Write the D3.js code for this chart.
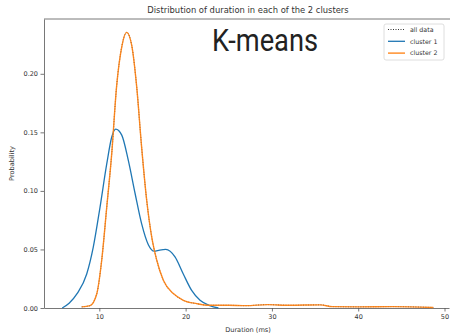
<!DOCTYPE html>
<html>
<head>
<meta charset="utf-8">
<script src="https://cdn.jsdelivr.net/npm/d3@7"></script>
<style>
  html, body { margin: 0; padding: 0; background: #fff; }
  svg { display: block; font-family: "DejaVu Sans", sans-serif; }
</style>
</head>
<body>
<div id="chart"></div>
<script>
// duration (ms) / probability pairs
const cluster1X = [5.7, 6.5, 7.4, 8.54, 9.3, 10.08, 10.86, 11.44, 11.9, 12.6, 13.36, 14.14, 14.9, 15.68, 16.35, 17.0, 17.7, 18.77, 19.73, 20.7, 21.67, 22.8, 23.8];
const cluster1Y = [0.0, 0.004, 0.012, 0.029, 0.052, 0.086, 0.123, 0.146, 0.1527, 0.1476, 0.126, 0.098, 0.072, 0.054, 0.0485, 0.0495, 0.05, 0.0436, 0.029, 0.015, 0.0066, 0.002, 0.0];

const cluster2X = [7.96, 8.92, 9.7, 10.28, 10.86, 11.44, 12.0, 12.6, 13.17, 13.75, 14.33, 14.9, 15.49, 16.07, 16.65, 17.42, 18.58, 19.73, 21.3, 22.8, 25.0, 27.0, 29.5, 32.0, 35.6, 37.0, 40.0, 44.0, 48.7];
const cluster2Y = [0.001, 0.002, 0.012, 0.041, 0.086, 0.132, 0.189, 0.223, 0.2354, 0.2245, 0.189, 0.1376, 0.092, 0.0607, 0.041, 0.0237, 0.0123, 0.0066, 0.0037, 0.0023, 0.0023, 0.002, 0.0029, 0.0023, 0.0027, 0.0012, 0.001, 0.0012, 0.0004];

const allDataX = [7.96, 8.92, 9.7, 10.28, 10.86, 11.44, 12.0, 12.6, 13.17, 13.75, 14.33, 14.9, 15.49, 16.07, 16.65, 17.42, 18.58, 19.73, 21.3, 22.8, 25.0, 27.0, 29.5, 32.0, 35.6, 37.0, 40.0, 44.0, 48.7];
const allDataY = [0.001, 0.002, 0.012, 0.041, 0.086, 0.132, 0.189, 0.223, 0.2354, 0.2245, 0.189, 0.1376, 0.092, 0.0607, 0.041, 0.0237, 0.0123, 0.0066, 0.0037, 0.0023, 0.0023, 0.002, 0.0029, 0.0023, 0.0027, 0.0012, 0.001, 0.0012, 0.0004];

const xTicks = [10, 20, 30, 40, 50];
const yTicks = [0, 0.05, 0.10, 0.15, 0.20];

const seriesNames = ["all data", "cluster 1", "cluster 2"];
const seriesColors = ["#333333", "#1f77b4", "#ff7f0e"];

const width = 450;
const height = 336;
const margin = { top: 19, right: 1, bottom: 28, left: 44 };

const svg = d3.select("#chart")
  .append("svg")
  .attr("width", width)
  .attr("height", height);

const x = d3.scaleLinear()
  .domain([3.59, 50.52])
  .range([margin.left, width - margin.right]);

const y = d3.scaleLinear()
  .domain([0, 0.2468])
  .range([height - margin.bottom, margin.top]);

// top spine (right spine falls outside the crop)
svg.append("line")
  .attr("x1", margin.left).attr("x2", width)
  .attr("y1", margin.top).attr("y2", margin.top)
  .attr("stroke", "#555")
  .attr("stroke-width", 0.8);

const xAxis = svg.append("g")
  .attr("transform", `translate(0,${height - margin.bottom})`)
  .call(d3.axisBottom(x).tickValues(xTicks).tickFormat(d3.format("d")).tickSize(3.5).tickSizeOuter(0).tickPadding(2.5));

const yAxis = svg.append("g")
  .attr("transform", `translate(${margin.left},0)`)
  .call(d3.axisLeft(y).tickValues(yTicks).tickFormat(d3.format(".2f")).tickSize(3.5).tickSizeOuter(0).tickPadding(2.5));

[xAxis, yAxis].forEach((ax) => {
  ax.select(".domain").attr("stroke", "#555").attr("stroke-width", 0.8);
  ax.selectAll(".tick line").attr("stroke", "#555").attr("stroke-width", 0.8);
  ax.selectAll(".tick text")
    .attr("fill", "#333")
    .style("font-size", "6.5px")
    .style("font-family", "DejaVu Sans, sans-serif");
});

const line = d3.line()
  .x((d) => x(d[0]))
  .y((d) => y(d[1]))
  .curve(d3.curveMonotoneX);

const allData = d3.zip(allDataX, allDataY);
const cluster1 = d3.zip(cluster1X, cluster1Y);
const cluster2 = d3.zip(cluster2X, cluster2Y);

svg.append("path")
  .datum(allData)
  .attr("d", line)
  .attr("fill", "none")
  .attr("stroke", seriesColors[0])
  .attr("stroke-width", 1)
  .attr("stroke-dasharray", "1,1.5");

svg.append("path")
  .datum(cluster1)
  .attr("d", line)
  .attr("fill", "none")
  .attr("stroke", seriesColors[1])
  .attr("stroke-width", 1.3);

svg.append("path")
  .datum(cluster2)
  .attr("d", line)
  .attr("fill", "none")
  .attr("stroke", seriesColors[2])
  .attr("stroke-opacity", 0.9)
  .attr("stroke-width", 1.4);

// title and axis labels
svg.append("text")
  .attr("x", 248)
  .attr("y", 13)
  .attr("text-anchor", "middle")
  .attr("fill", "#333")
  .style("font-size", "8.4px")
  .text("Distribution of duration in each of the 2 clusters");

svg.append("text")
  .attr("x", 248)
  .attr("y", 332)
  .attr("text-anchor", "middle")
  .attr("fill", "#333")
  .style("font-size", "6.6px")
  .text("Duration (ms)");

svg.append("text")
  .attr("transform", `translate(14,${(margin.top + height - margin.bottom) / 2}) rotate(-90)`)
  .attr("text-anchor", "middle")
  .attr("fill", "#333")
  .style("font-size", "6.6px")
  .text("Probability");

svg.append("text")
  .attr("x", 212)
  .attr("y", 51)
  .attr("fill", "#222")
  .attr("textLength", 106)
  .attr("lengthAdjust", "spacingAndGlyphs")
  .style("font-family", "Roboto, sans-serif")
  .style("font-size", "32px")
  .text("K-means");

// legend
const legend = svg.append("g").attr("transform", "translate(384,24)");
legend.append("rect")
  .attr("width", 60)
  .attr("height", 36)
  .attr("rx", 2)
  .attr("fill", "#fff")
  .attr("fill-opacity", 0.8)
  .attr("stroke", "#d5d5d5")
  .attr("stroke-width", 0.8);

seriesNames.forEach((name, i) => {
  const ly = 5.5 + i * 11.8;
  legend.append("line")
    .attr("x1", 4).attr("x2", 21)
    .attr("y1", ly).attr("y2", ly)
    .attr("stroke", seriesColors[i])
    .attr("stroke-width", i === 0 ? 1 : 1.3)
    .attr("stroke-dasharray", i === 0 ? "1,1.5" : null);
  legend.append("text")
    .attr("x", 26)
    .attr("y", ly + 2.2)
    .attr("fill", "#333")
    .style("font-size", "6.3px")
    .text(name);
});
</script>
</body>
</html>
